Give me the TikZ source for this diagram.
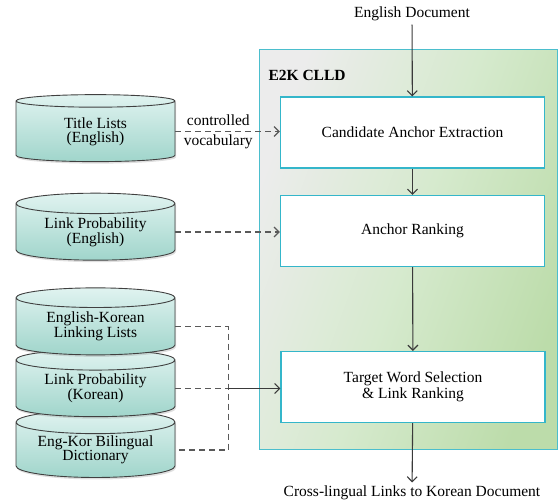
\documentclass[tikz,border=0pt]{standalone}
\usepackage{fontspec}
\setmainfont{Liberation Serif}
\usepackage{tikz}
\usetikzlibrary{
  arrows.meta,
  positioning,
  shadows,
  shapes.geometric
}
\definecolor{clldedge}{RGB}{75,190,205}
\definecolor{clldlight}{RGB}{236,236,236}
\definecolor{clldmid}{RGB}{214,234,206}
\definecolor{clldgreen}{RGB}{188,220,170}
\definecolor{stageedge}{RGB}{52,182,202}
\definecolor{dbtop}{RGB}{224,243,240}
\definecolor{dbbottom}{RGB}{160,213,203}
\definecolor{wire}{RGB}{58,58,58}
\tikzset{
  serif/.style={ font=\fontsize{15.5}{14}\selectfont },
  container/.style={
    draw=clldedge,
    line width=1pt,
    shading=axis,
    top color=clldlight,
    bottom color=clldgreen,
    middle color=clldmid,
    shading angle=70,
    minimum width=298pt,
    minimum height=400pt,
    inner sep=0pt
  },
  stagebox/.style={
    draw=stageedge,
    fill=white,
    line width=1.2pt,
    minimum width=264pt,
    minimum height=71pt,
    align=center,
    inner sep=0pt
  },
  dbdisk/.style={
    cylinder,
    shape border rotate=90,
    aspect=0.2,
    draw=black!75,
    line width=0.9pt,
    top color=dbtop,
    bottom color=dbbottom,
    minimum width=159pt,
    minimum height=67pt,
    align=center,
    inner sep=0pt,
    drop shadow={opacity=0.25, shadow xshift=1pt, shadow yshift=-2pt}
  },
  flow/.style={
    -{Straight Barb[length=5pt,width=10pt]},
    line width=1.1pt,
    draw=wire
  },
  feed/.style={
    flow,
    draw=black!65,
    line width=1.2pt,
    dash pattern=on 6pt off 4pt
  }
}

\begin{document}
\begin{tikzpicture}[serif, x=1pt, y=-1pt]
  \useasboundingbox (0,0) rectangle (558,504);

  % the E2K CLLD block and its three stages
  \node[container] (clld) at (408,249) {};
  \node[anchor=west, font=\fontsize{15.5}{15}\selectfont\bfseries] (clldname) at (265,75) {E2K CLLD};
  \node[stagebox] (extract) at (412.5,132.5) {Candidate Anchor Extraction};
  \node[stagebox] (rank) at (412.5,231) {Anchor Ranking};
  \node[stagebox] (select) at (413,387) {Target Word Selection\\[1pt]\& Link Ranking};

  % input and output documents
  \node (endoc) at (412,14) {English Document};
  \node (kolinks) at (412,493) {Cross-lingual Links to Korean Document};

  % resources on the left, the stack drawn bottom first
  \node[dbdisk] (titles) at (95.5,131.5) {Title Lists\\(English)};
  \node[dbdisk] (enprob) at (95.5,232) {Link Probability\\(English)};
  \node[dbdisk] (dict) at (95.5,450) {Eng-Kor Bilingual\\Dictionary};
  \node[dbdisk] (koprob) at (95.5,388.5) {Link Probability\\(Korean)};
  \node[dbdisk] (linklists) at (95.5,326.5) {English-Korean\\Linking Lists};

  % main flow
  \draw[flow] (endoc) -- (extract);
  \draw[flow] (extract) -- (rank);
  \draw[flow] (rank) -- (select);
  \draw[flow] (select) -- (kolinks);

  % resource feeds
  \draw[feed] (titles.east) -- node[pos=0.41, align=center, text=black,
    font=\fontsize{15.5}{20}\selectfont] {controlled\\vocabulary}
    (titles.east -| extract.west);
  \draw[feed] (enprob.east) -- (enprob.east -| rank.west);
  \coordinate (bus) at ([xshift=53pt]koprob.east);
  \draw[feed, -] (linklists.east) -- (linklists.east -| bus)
    -- (dict.east -| bus) -- (dict.east);
  \draw[feed, -] (koprob.east) -- (bus);
  \draw[flow] (bus) -- (bus -| select.west);
\end{tikzpicture}
\end{document}
